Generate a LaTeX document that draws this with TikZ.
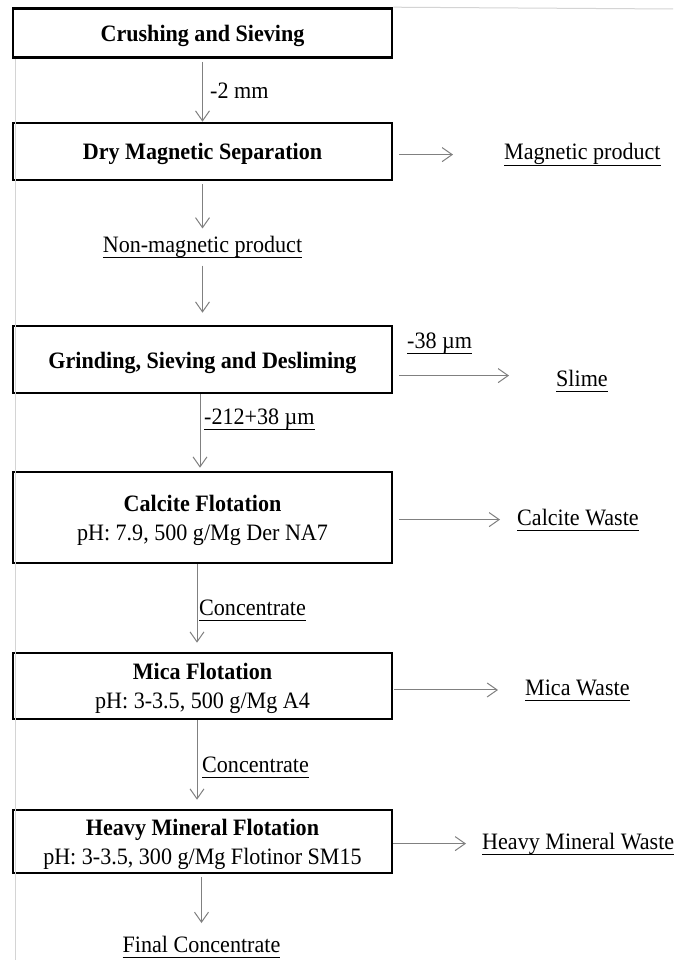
\documentclass[tikz,border=0pt]{standalone}
\usepackage{fontspec}
\setmainfont{Liberation Serif}[FakeStretch=0.94]
\usetikzlibrary{arrows.meta}
\definecolor{flowgray}{RGB}{128,128,128}
\definecolor{framegray}{RGB}{212,212,212}
\newcommand\myul[1]{\setbox0\hbox{#1}\rlap{\rule[-5.5pt]{\wd0}{0.9pt}}\box0}
\begin{document}
\begin{tikzpicture}[x=1pt,y=-1pt,
  procbox/.style={draw=black, line width=2.6pt, minimum width=379pt, inner sep=0pt,
    align=center, font=\fontsize{23.5}{29}\selectfont},
  oneline/.style={procbox, text height=19pt, text depth=2pt},
  twoline/.style={procbox, text height=46pt, text depth=1pt},
  lbl/.style={inner sep=0pt, font=\fontsize{23.5}{26}\selectfont, anchor=base west},
  flow/.style={draw=flowgray, line width=1pt,
    -{Straight Barb[length=10pt,width=14pt,line width=1pt]}},
  frameline/.style={draw=framegray, line width=1pt}]
\useasboundingbox (0,0) rectangle (673,960);
\fill[white] (0,0) rectangle (673,960);

% boxes
\node[oneline, minimum height=49pt] (b1) at (202.5,33) {\textbf{Crushing and Sieving}};
\node[oneline, minimum height=57pt] (b2) at (202.5,151.5) {\textbf{Dry Magnetic Separation}};
\node[oneline, minimum height=67pt] (b3) at (202.5,359.5) {\textbf{Grinding, Sieving and Desliming}};
\node[twoline, minimum height=91pt] (b4) at (202.5,517.5) {\textbf{Calcite Flotation}\\pH: 7.9, 500 g/Mg Der NA7};
\node[twoline, minimum height=66pt] (b5) at (202.5,686) {\textbf{Mica Flotation}\\pH: 3-3.5, 500 g/Mg A4};
\node[twoline, minimum height=63pt] (b6) at (202.5,841.5) {\textbf{Heavy Mineral Flotation}\\pH: 3-3.5, 300 g/Mg Flotinor SM15};

% frame lines
\draw[frameline] (b1.north east) -- (673,9);
\draw[frameline] (15,59) -- (15,960);

% labels
\node[lbl] (l1) at (210,99) {-2 mm};
\node[lbl] (mp) at (504,160) {\myul{Magnetic product}};
\node[lbl, anchor=base] (nm) at (202.5,252) {\myul{Non-magnetic product}};
\node[lbl] (l38) at (407,348) {\myul{-38 µm}};
\node[lbl] (sl) at (556,386) {\myul{Slime}};
\node[lbl] (l212) at (204,424) {\myul{-212+38 µm}};
\node[lbl] (cw) at (517,525) {\myul{Calcite Waste}};
\node[lbl] (c1) at (199,615) {\myul{Concentrate}};
\node[lbl] (mw) at (525,695) {\myul{Mica Waste}};
\node[lbl] (c2) at (202,772) {\myul{Concentrate}};
\node[lbl] (hw) at (482,849) {\myul{Heavy Mineral Waste}};
\node[lbl, anchor=base] (fc) at (201.5,952.5) {\myul{Final Concentrate}};

% vertical flow
\draw[flow, shorten <=3pt] (b1.south) -- (b2.north);
\draw[flow, shorten <=3pt, shorten >=7pt] (b2.south) -- (nm.north);
\draw[flow, shorten <=8pt, shorten >=12pt] (nm.south) -- (b3.north);
\draw[flow, shorten >=3pt] ([xshift=-2.5pt]b3.south) -- ([xshift=-2.5pt]b4.north);
\draw[flow, shorten >=9pt] ([xshift=-5.5pt]b4.south) -- ([xshift=-5.5pt]b5.north);
\draw[flow, shorten >=9pt] ([xshift=-5.5pt]b5.south) -- ([xshift=-5.5pt]b6.north);
\draw[flow, shorten <=3pt, shorten >=13pt] ([xshift=-1pt]b6.south) -- (fc.north);

% side flow
\coordinate (s3) at ([yshift=5pt]sl.west);
\draw[flow, shorten <=6pt, shorten >=51pt] (b2.east |- mp.west) -- (mp.west);
\draw[flow, shorten <=6pt, shorten >=47pt] (b3.east |- s3) -- (s3);
\draw[flow, shorten <=6pt, shorten >=17pt] (b4.east |- cw.west) -- (cw.west);
\draw[flow, shorten <=1pt, shorten >=27pt] (b5.east |- mw.west) -- (mw.west);
\draw[flow, shorten >=16pt] (b6.east |- hw.west) -- (hw.west);
\end{tikzpicture}
\end{document}
